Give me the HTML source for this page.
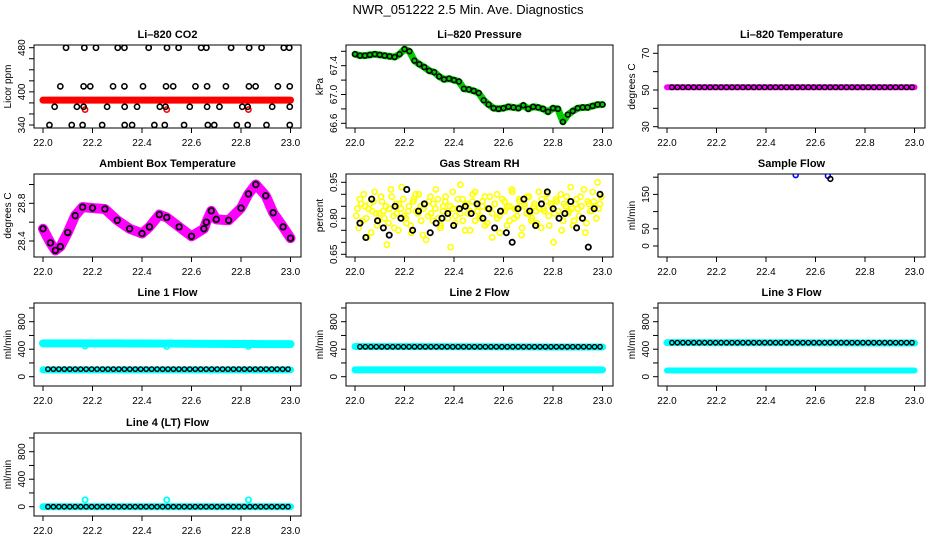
<!DOCTYPE html>
<html><head><meta charset="utf-8"><style>
html,body{margin:0;padding:0;background:#fff;}
svg{display:block;font-family:"Liberation Sans",Arial,sans-serif;}
</style></head><body>
<svg id="chart" width="936" height="540" viewBox="0 0 936 540" xmlns="http://www.w3.org/2000/svg">
<text x="468" y="14" text-anchor="middle" font-size="13">NWR_051222  2.5 Min. Ave. Diagnostics</text>
</svg>
<script>
// ---------- data ----------
const xTicks = [22.0, 22.2, 22.4, 22.6, 22.8, 23.0];
const xTickLabels = ["22.0", "22.2", "22.4", "22.6", "22.8", "23.0"];

const co2TopT = [22.093,22.167,22.214,22.302,22.329,22.427,22.501,22.548,22.639,22.660,22.760,22.833,22.883,22.973,22.995];
const co2TopV = [480,480,480,480,480,480,480,480,480,480,480,480,480,480,480];
const co2MidT = [22.070,22.164,22.191,22.283,22.329,22.404,22.497,22.526,22.616,22.663,22.739,22.832,22.859,22.949,22.997];
const co2MidV = [410,410,410,410,410,410,410,410,410,410,410,410,410,410,410];
const co2LowT = [22.047,22.137,22.164,22.259,22.330,22.380,22.472,22.495,22.593,22.663,22.713,22.805,22.827,22.926,22.997];
const co2LowV = [373,373,373,373,373,373,373,373,373,373,373,373,373,373,373];
const co2BotT = [22.026,22.116,22.160,22.239,22.330,22.360,22.450,22.492,22.570,22.666,22.692,22.783,22.827,22.903,22.997];
const co2BotV = [340,340,340,340,340,340,340,340,340,340,340,340,340,340,340];
const co2RedT = [22.0, 22.25, 22.5, 22.75, 23.0];
const co2RedV = [385, 385, 385, 385, 385];
const co2RedDipT = [22.17, 22.5, 22.83];
const co2RedDipV = [368, 368, 368];

const presT = [22.00,22.02,22.04,22.06,22.08,22.10,22.12,22.14,22.16,22.18,22.20,22.22,22.24,22.26,22.28,22.30,22.32,22.34,22.36,22.38,22.40,22.42,22.44,22.46,22.48,22.50,22.52,22.54,22.56,22.58,22.60,22.62,22.64,22.66,22.68,22.70,22.72,22.74,22.76,22.78,22.80,22.82,22.84,22.86,22.88,22.90,22.92,22.94,22.96,22.98,23.00];
const presV = [67.56,67.54,67.54,67.55,67.56,67.55,67.54,67.53,67.52,67.56,67.63,67.60,67.47,67.42,67.38,67.33,67.31,67.25,67.21,67.22,67.20,67.18,67.08,67.07,67.05,67.02,66.92,66.86,66.81,66.80,66.81,66.83,66.82,66.81,66.85,66.80,66.83,66.82,66.80,66.76,66.81,66.80,66.62,66.72,66.77,66.81,66.82,66.82,66.84,66.86,66.86];

const ltempBandV = [51.5,51.5,51.5,51.5,51.5,51.5,51.5,51.5,51.5,51.5,51.5];
const ltempDotV = [51.5,51.5,51.5,51.5,51.5,51.5,51.5,51.5,51.5,51.5,51.5,51.5,51.5,51.5,51.5,51.5,51.5,51.5,51.5,51.5,51.5,51.5,51.5,51.5,51.5,51.5,51.5,51.5,51.5,51.5,51.5,51.5,51.5,51.5,51.5,51.5,51.5,51.5,51.5,51.5,51.5,51.5,51.5,51.5,51.5];

const ambT = [22.00,22.03,22.05,22.07,22.10,22.13,22.16,22.20,22.25,22.30,22.35,22.40,22.43,22.47,22.50,22.55,22.60,22.65,22.66,22.68,22.70,22.75,22.80,22.83,22.86,22.90,22.93,22.97,23.00];
const ambV = [28.53,28.38,28.30,28.34,28.49,28.67,28.76,28.75,28.74,28.62,28.53,28.48,28.55,28.68,28.65,28.55,28.45,28.53,28.60,28.72,28.63,28.62,28.75,28.90,29.00,28.88,28.70,28.55,28.43];

const rhYellowV = [.84,.88,.79,.85,.72,.86,.83,.91,.77,.82,.87,.80,.69,.84,.89,.76,.82,.86,.93,.81,.78,.85,.74,.88,.83,.90,.79,.84,.71,.87,.82,.86,.92,.80,.77,.85,.89,.83,.68,.84,.81,.88,.94,.79,.86,.82,.75,.87,.91,.83,.80,.85,.89,.78,.84,.72,.86,.90,.81,.83,.87,.77,.85,.92,.80,.84,.88,.73,.86,.82,.89,.79,.85,.83,.91,.76,.84,.87,.81,.86,.70,.88,.83,.90,.79,.85,.82,.93,.77,.86,.84,.89,.80,.74,.87,.83,.91,.85,.95,.86];
const rhYellowV2 = [.81,.76,.86,.90,.80,.84,.74,.87,.82,.79,.89,.83,.85,.78,.92,.81,.86,.75,.84,.88,.80,.83,.77,.87,.90,.82,.85,.73,.86,.81,.89,.79,.84,.88,.76,.83,.87,.80,.85,.91,.78,.84,.82,.88,.75,.86,.83,.90,.79,.85,.81,.87,.77,.84,.89,.82,.86,.80,.74,.88,.83,.85,.79,.91,.84,.81,.87,.76,.85,.89,.82,.80,.86,.78,.84,.88,.83,.90,.77,.85,.82,.87,.80,.75,.86,.89,.83,.84,.79,.88,.81,.85,.92,.78,.86,.83,.87,.80,.84,.89];
const rhBlackV = [.78,.72,.88,.79,.76,.73,.85,.80,.92,.75,.83,.86,.74,.78,.80,.82,.77,.84,.85,.82,.86,.80,.84,.76,.83,.74,.70,.84,.88,.83,.77,.86,.91,.84,.80,.82,.87,.76,.80,.68,.84,.90];

const sfBlueT = [22.52, 22.65];
const sfBlueV = [206, 204];
const sfBlackT = [22.66];
const sfBlackV = [195];

const l1UpperV = [485,485,484,484,483,482,480,478,476,474,474];
const l1LowerV = [100,100,100,100,100,100,100,100,100,100,100];
const l1DotV = [110,110,110,110,110,110,110,110,110,110,110,110,110,110,110,110,110,110,110,110,110,110,110,110,110,110,110,110,110,110,110,110,110,110,110,110,110,110,110,110,110,110,110,110,110];
const l1DipT = [22.17, 22.5, 22.83];
const l1DipV = [445, 440, 440];

const l2UpperV = [440,438,438,437,436,435,434,433,432,432,432];
const l2LowerV = [100,100,100,100,100,100,100,100,100,100,100];
const l2DotV = [435,435,435,435,435,435,435,435,435,435,435,435,435,435,435,435,435,435,435,435,435,435,435,435,435,435,435,435,435,435,435,435,435,435,435,435,435,435,435,435,435,435,435,435,435];

const l3UpperV = [495,495,494,494,493,493,492,492,491,491,490];
const l3LowerV = [90,90,90,90,90,90,90,90,90,90,90];
const l3DotV = [495,495,495,495,495,495,495,495,495,495,495,495,495,495,495,495,495,495,495,495,495,495,495,495,495,495,495,495,495,495,495,495,495,495,495,495,495,495,495,495,495,495,495,495,495];

const l4BandV = [0,0,0,0,0,0,0,0,0,0,0];
const l4DotV = [0,0,0,0,0,0,0,0,0,0,0,0,0,0,0,0,0,0,0,0,0,0,0,0,0,0,0,0,0,0,0,0,0,0,0,0,0,0,0,0,0,0,0,0,0];
const l4SpikeT = [22.17, 22.5, 22.83];
const l4SpikeV = [100, 100, 100];

// ---------- drawing ----------
const NS = "http://www.w3.org/2000/svg";
const svg = document.getElementById("chart");
function mk(tag, attrs, parent) {
  const e = document.createElementNS(NS, tag);
  for (const k in attrs) e.setAttribute(k, attrs[k]);
  (parent || svg).appendChild(e);
  return e;
}
function evenTimes(n, t0, t1) { const a = []; for (let i = 0; i < n; i++) a.push(t0 + (t1 - t0) * i / (n - 1)); return a; }
const bandT = evenTimes(11, 22.0, 23.0);

const colLeft = [34, 346, 658];
const rowTop = [45, 174, 303, 433];
const BW = 267, BH = 83;

function panel(name, col, row, title, ylabel, ymin, ymax, yPix0, yPix1, ticks, labels) {
  const L = colLeft[col], T = rowTop[row];
  const g = mk("g", {});
  
  
  const xs = t => L + 9 + (t - 22) * 247.5;
  const ys = v => T + yPix0 + (v - ymin) / (ymax - ymin) * (yPix1 - yPix0);
  const box = mk("rect", {x: L, y: T, width: BW, height: BH, fill: "none", stroke: "#000", "stroke-width": 1}, g);
  
  
  const tt = mk("text", {x: L + BW / 2, y: T - 7, "text-anchor": "middle", "font-size": 11, "font-weight": "bold"}, g);
  tt.textContent = title;
  
  
  xTicks.forEach((t, i) => {
    mk("line", {x1: xs(t), x2: xs(t), y1: T + BH, y2: T + BH + 5, stroke: "#000"}, g);
    const lb = mk("text", {x: xs(t), y: T + BH + 18, "text-anchor": "middle", "font-size": 10}, g);
    lb.textContent = xTickLabels[i];
    
    
  });
  ticks.forEach((v, i) => {
    const y = ys(v);
    mk("line", {x1: L - 5, x2: L, y1: y, y2: y, stroke: "#000"}, g);
    if (labels[i] !== "") {
      const lb = mk("text", {x: 0, y: 0, transform: `translate(${L - 9},${y}) rotate(-90)`, "text-anchor": "middle", "font-size": 10}, g);
      lb.textContent = labels[i];
      
      
    }
  });
  const yl = mk("text", {x: 0, y: 0, transform: `translate(${L - 23},${T + BH / 2}) rotate(-90)`, "text-anchor": "middle", "font-size": 10}, g);
  yl.textContent = ylabel;
  
  
  const clip = "clip" + name;
  const cp = mk("clipPath", {id: clip}, g);
  mk("rect", {x: L, y: T, width: BW, height: BH}, cp);
  const plot = mk("g", {"clip-path": `url(#${clip})`}, g);
  return {
    band(ts, vs, color, w) {
      const p = mk("polyline", {points: ts.map((t, i) => xs(t) + "," + ys(vs[i])).join(" "), fill: "none", stroke: color, "stroke-width": w || 7, "stroke-linejoin": "round", "stroke-linecap": "round"}, plot);
      
      
    },
    dots(ts, vs, color, r, sw) {
      ts.forEach((t, i) => {
        const c = mk("circle", {cx: xs(t), cy: ys(vs[i]), r: r || 2.6, fill: "none", stroke: color, "stroke-width": sw || 1.6}, plot);
        
        
      });
    }
  };
}

// CO2
let p = panel("co2-panel", 0, 0, "Li\u2013820 CO2", "Licor ppm", 340, 480, 80, 2.7,
  [340,360,380,400,420,440,460,480], ["340","","","400","","","","480"]);
p.band(co2RedT, co2RedV, "#ff0000", 7);
p.dots(co2RedDipT, co2RedDipV, "#ff0000");
p.dots(co2TopT, co2TopV, "#000");
p.dots(co2MidT, co2MidV, "#000");
p.dots(co2LowT, co2LowV, "#000");
p.dots(co2BotT, co2BotV, "#000");

// Pressure
p = panel("pressure-panel", 1, 0, "Li\u2013820 Pressure", "kPa", 66.6, 67.4, 78.3, 20.7,
  [66.6,66.8,67.0,67.2,67.4,67.6], ["66.6","","67.0","","67.4",""]);
p.band(presT, presV, "#00cc00", 7);
p.dots(presT, presV, "#000", 2.4, 1.5);

// Li temp
p = panel("li-temp-panel", 2, 0, "Li\u2013820 Temperature", "degrees C", 30, 70, 81.7, 8.3,
  [30,40,50,60,70], ["30","","50","","70"]);
p.band(bandT, ltempBandV, "#ff00ff", 6);
p.dots(evenTimes(ltempDotV.length, 22.02, 22.99), ltempDotV, "#000", 2.3, 1.4);

// Ambient
p = panel("ambient-temp-panel", 0, 1, "Ambient Box Temperature", "degrees C", 28.4, 29.0, 67, 10.5,
  [28.4,28.6,28.8,29.0], ["28.4","","28.8",""]);
p.band(ambT, ambV, "#ff00ff", 10);
p.dots(ambT, ambV, "#000", 2.8, 1.8);

// RH
p = panel("rh-panel", 1, 1, "Gas Stream RH", "percent", 0.65, 0.95, 80.3, 8.3,
  [0.65,0.70,0.75,0.80,0.85,0.90,0.95], ["0.65","","","0.80","","","0.95"]);
p.dots(evenTimes(rhYellowV.length, 22.01, 22.99), rhYellowV, "#ffff00", 2.6, 1.6);
p.dots(evenTimes(rhYellowV2.length, 22.005, 22.995), rhYellowV2, "#ffff00", 2.6, 1.6);
p.dots(evenTimes(rhBlackV.length, 22.02, 22.99), rhBlackV, "#000", 2.6, 1.8);

// Sample flow
p = panel("sample-flow-panel", 2, 1, "Sample Flow", "ml/min", 0, 150, 72, 20.4,
  [0,50,100,150,200], ["0","50","","150",""]);
p.dots(sfBlueT, sfBlueV, "#0000ff", 2.4, 1.6);
p.dots(sfBlackT, sfBlackV, "#000", 2.4, 1.6);

// Line flows
const flowTicks = [0,200,400,600,800,1000];
const flowLabels = ["0","","400","","800",""];
p = panel("line1-flow-panel", 0, 2, "Line 1 Flow", "ml/min", 0, 800, 73.7, 18.7, flowTicks, flowLabels);
p.band(bandT, l1UpperV, "#00ffff", 8);
p.band(bandT, l1LowerV, "#00ffff", 7);
p.dots(l1DipT, l1DipV, "#00ffff");
p.dots(evenTimes(l1DotV.length, 22.02, 22.99), l1DotV, "#000", 2.2, 1.4);

p = panel("line2-flow-panel", 1, 2, "Line 2 Flow", "ml/min", 0, 800, 73.7, 18.7, flowTicks, flowLabels);
p.band(bandT, l2UpperV, "#00ffff", 7);
p.band(bandT, l2LowerV, "#00ffff", 7);
p.dots(evenTimes(l2DotV.length, 22.02, 22.99), l2DotV, "#000", 2.2, 1.4);

p = panel("line3-flow-panel", 2, 2, "Line 3 Flow", "ml/min", 0, 800, 73.7, 18.7, flowTicks, flowLabels);
p.band(bandT, l3UpperV, "#00ffff", 7);
p.band(bandT, l3LowerV, "#00ffff", 6);
p.dots(evenTimes(l3DotV.length, 22.02, 22.99), l3DotV, "#000", 2.2, 1.4);

p = panel("line4-flow-panel", 0, 3, "Line 4 (LT) Flow", "ml/min", 0, 800, 73.7, 18.7, flowTicks, flowLabels);
p.band(bandT, l4BandV, "#00ffff", 7);
p.dots(l4SpikeT, l4SpikeV, "#00ffff", 2.6, 1.8);
p.dots(evenTimes(l4DotV.length, 22.02, 22.99), l4DotV, "#000", 2.2, 1.4);
</script>
</body></html>
